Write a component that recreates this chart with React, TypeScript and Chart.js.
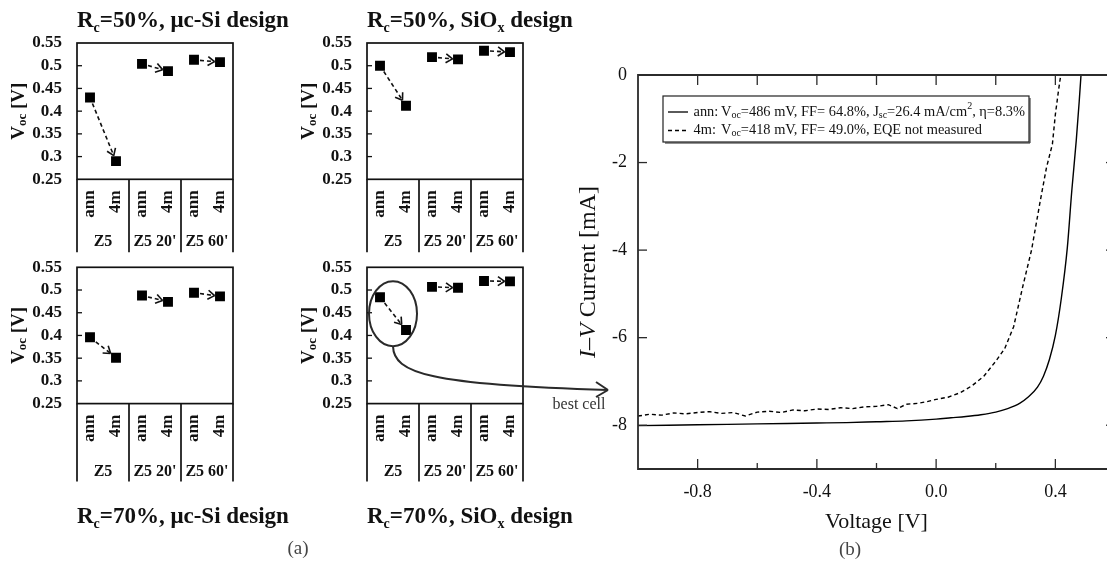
import React, { useEffect, useRef } from 'react';
import { Chart, registerables } from 'chart.js';
Chart.register(...registerables);

// ---------------- Data: Voc panels (a) ----------------
const groups = ['Z5', "Z5 20'", "Z5 60'"];
const treatments = ['ann', '4m'];
const vocTicks = [0.25, 0.3, 0.35, 0.4, 0.45, 0.5, 0.55];

const rc50ucAnn = [0.43, 0.504, 0.513];
const rc50uc4m = [0.29, 0.488, 0.508];
const rc50SiOxAnn = [0.5, 0.519, 0.533];
const rc50SiOx4m = [0.412, 0.514, 0.53];
const rc70ucAnn = [0.396, 0.488, 0.494];
const rc70uc4m = [0.351, 0.474, 0.486];
const rc70SiOxAnn = [0.484, 0.507, 0.52];
const rc70SiOx4m = [0.412, 0.505, 0.519];

// ---------------- Data: I-V curves (b) ----------------
const annVoltage = [-1.0, -0.9, -0.8, -0.7, -0.6, -0.5, -0.4, -0.3, -0.2, -0.1, 0.0, 0.05, 0.1, 0.15, 0.2, 0.24, 0.28, 0.31, 0.34, 0.36, 0.38, 0.4, 0.42, 0.44, 0.455, 0.47, 0.48, 0.486, 0.492];
const annCurrent = [-8.01, -8.0, -7.99, -7.98, -7.97, -7.96, -7.95, -7.94, -7.92, -7.9, -7.86, -7.83, -7.8, -7.76, -7.7, -7.62, -7.5, -7.35, -7.13, -6.88, -6.5, -5.95, -5.1, -3.95, -2.65, -1.5, -0.6, 0.0, 0.5];
const m4Voltage = [-1.0, -0.96, -0.92, -0.88, -0.84, -0.8, -0.76, -0.72, -0.68, -0.64, -0.6, -0.56, -0.52, -0.48, -0.44, -0.4, -0.36, -0.32, -0.28, -0.24, -0.2, -0.16, -0.13, -0.1, -0.06, -0.03, 0.0, 0.04, 0.08, 0.12, 0.16, 0.2, 0.23, 0.26, 0.29, 0.32, 0.35, 0.37, 0.39, 0.4, 0.41, 0.418, 0.425];
const m4Current = [-7.79, -7.75, -7.77, -7.72, -7.74, -7.71, -7.69, -7.73, -7.71, -7.79, -7.7, -7.68, -7.71, -7.65, -7.67, -7.63, -7.64, -7.6, -7.62, -7.58, -7.57, -7.53, -7.62, -7.52, -7.5, -7.46, -7.41, -7.36, -7.26, -7.1, -6.88, -6.54, -6.25, -5.75, -4.85, -4.0, -2.85, -2.12, -1.58, -0.9, -0.38, 0.0, 0.4];
const xMajorTicks = [-0.8, -0.4, 0.0, 0.4];
const xMinorTicks = [-0.6, -0.2, 0.2];
const yTicks = [-8, -6, -4, -2, 0];

// ---------------- Styling helpers ----------------
const SERIF = '"Liberation Serif", "Times New Roman", serif';
const bold = (s: number) => `bold ${s}px ${SERIF}`;
const reg = (s: number) => `${s}px ${SERIF}`;
const ital = (s: number) => `italic ${s}px ${SERIF}`;
const INK = '#111';

type Seg = { t: string; font: string; dy?: number };

function drawSegs(ctx: CanvasRenderingContext2D, segs: Seg[], x: number, y: number, align: 'left' | 'center') {
  let total = 0;
  for (const s of segs) {
    ctx.font = s.font;
    total += ctx.measureText(s.t).width;
  }
  let cx = align === 'center' ? x - total / 2 : x;
  ctx.textAlign = 'left';
  for (const s of segs) {
    ctx.font = s.font;
    ctx.fillText(s.t, cx, y + (s.dy || 0));
    cx += ctx.measureText(s.t).width;
  }
}

function line(ctx: CanvasRenderingContext2D, x1: number, y1: number, x2: number, y2: number) {
  ctx.beginPath();
  ctx.moveTo(x1, y1);
  ctx.lineTo(x2, y2);
  ctx.stroke();
}

type PanelProps = {
  left: number;
  top: number;
  width: number;
  height: number;
  plotTop: number;
  boxDepth: number;
  groupLabelOffset: number;
  ann: number[];
  m4: number[];
  title: Seg[];
  titleY: number;
  highlight?: boolean;
  caption?: { t: string; x: number; y: number };
};

function Panel(props: PanelProps) {
  const ref = useRef<HTMLCanvasElement>(null);
  useEffect(() => {
    const canvas = ref.current;
    if (!canvas) return;
    const { ann, m4, title, titleY, highlight, width, height, plotTop, caption, boxDepth, groupLabelOffset } = props;
    const plotBottom = plotTop + 136.3;

    const decor = {
      id: 'panelDecor',
      beforeDatasetsDraw(chart: any) {
        const ctx: CanvasRenderingContext2D = chart.ctx;
        const a = chart.getDatasetMeta(0).data;
        const b = chart.getDatasetMeta(1).data;
        ctx.save();
        ctx.strokeStyle = INK;
        ctx.lineWidth = 1.6;
        for (let g = 0; g < groups.length; g++) {
          const p1 = { x: a[g].x, y: a[g].y };
          const p2 = { x: b[g].x, y: b[g].y };
          const dx = p2.x - p1.x;
          const dy = p2.y - p1.y;
          const len = Math.hypot(dx, dy);
          const ux = dx / len;
          const uy = dy / len;
          const edge = 5 / Math.max(Math.abs(ux), Math.abs(uy));
          const sx = p1.x + ux * (edge + 1);
          const sy = p1.y + uy * (edge + 1);
          const tx = p2.x - ux * (edge + 0.5);
          const ty = p2.y - uy * (edge + 0.5);
          ctx.setLineDash([4, 3]);
          line(ctx, sx, sy, tx, ty);
          ctx.setLineDash([]);
          const ang = Math.atan2(uy, ux);
          for (const s of [-0.6, 0.6]) {
            line(ctx, tx, ty, tx - Math.cos(ang + s) * 8, ty - Math.sin(ang + s) * 8);
          }
        }
        ctx.restore();
      },
      afterDraw(chart: any) {
        const ctx: CanvasRenderingContext2D = chart.ctx;
        const { left, right, top, bottom } = chart.chartArea;
        const xs = chart.scales.x;
        const ys = chart.scales.y;
        ctx.save();
        ctx.strokeStyle = INK;
        ctx.fillStyle = INK;
        ctx.lineWidth = 1.7;
        ctx.strokeRect(left, top, right - left, bottom - top);
        // inward ticks
        ctx.lineWidth = 1.3;
        for (const v of vocTicks.slice(1, -1)) {
          const py = ys.getPixelForValue(v);
          line(ctx, left, py, left + 5, py);
        }
        // category box separators
        ctx.lineWidth = 1.7;
        for (let g = 0; g <= groups.length; g++) {
          const px = xs.getPixelForValue(g * 2);
          line(ctx, px, bottom, px, bottom + boxDepth);
        }
        // rotated treatment labels
        ctx.textBaseline = 'middle';
        for (let g = 0; g < groups.length; g++) {
          ctx.font = bold(17);
          treatments.forEach((tr, k) => {
            const px = xs.getPixelForValue(g * 2 + k + 0.5);
            ctx.save();
            ctx.translate(px, bottom + 11);
            ctx.rotate(-Math.PI / 2);
            ctx.textAlign = 'right';
            ctx.fillText(tr, 0, 0);
            ctx.restore();
          });
          ctx.font = bold(16);
          ctx.textAlign = 'center';
          ctx.fillText(groups[g], xs.getPixelForValue(g * 2 + 1), bottom + groupLabelOffset);
        }
        // y title
        ctx.save();
        ctx.translate(19, (top + bottom) / 2);
        ctx.rotate(-Math.PI / 2);
        ctx.textBaseline = 'middle';
        drawSegs(ctx, [
          { t: 'V', font: bold(19) },
          { t: 'oc', font: bold(13), dy: 4 },
          { t: ' [V]', font: bold(19) },
        ], 0, 0, 'center');
        ctx.restore();
        // title
        ctx.textBaseline = 'alphabetic';
        drawSegs(ctx, title, left, titleY, 'left');
        // highlight ellipse + arrow
        if (highlight) {
          const a = chart.getDatasetMeta(0).data[0];
          const b = chart.getDatasetMeta(1).data[0];
          const cx = (a.x + b.x) / 2;
          const cy = (a.y + b.y) / 2;
          const rx = 24;
          const ry = 32.5;
          ctx.strokeStyle = '#2a2a2a';
          ctx.lineWidth = 2;
          ctx.beginPath();
          ctx.ellipse(cx, cy, rx, ry, 0, 0, Math.PI * 2);
          ctx.stroke();
          const sx = cx;
          const sy = cy + ry;
          const ex = 318;
          const ey = 166;
          ctx.beginPath();
          ctx.moveTo(sx, sy);
          ctx.bezierCurveTo(sx + 0.5, sy + 27, 140, 161, ex, ey);
          ctx.stroke();
          line(ctx, ex, ey, ex - 12, ey - 8);
          line(ctx, ex, ey, ex - 12, ey + 7);
          ctx.fillStyle = '#333';
          ctx.font = reg(16);
          ctx.textAlign = 'center';
          ctx.textBaseline = 'middle';
          ctx.fillText('best cell', 289, 181);
        }
        if (caption) {
          ctx.fillStyle = '#444';
          ctx.font = reg(19);
          ctx.textAlign = 'center';
          ctx.textBaseline = 'middle';
          ctx.fillText(caption.t, caption.x, caption.y);
        }
        ctx.restore();
      },
    };

    const chart = new Chart(canvas, {
      type: 'scatter',
      data: {
        datasets: [
          {
            label: treatments[0],
            data: ann.map((v, g) => ({ x: g * 2 + 0.5, y: v })),
            pointStyle: 'rect',
            pointRadius: 7,
            pointHoverRadius: 7,
            backgroundColor: '#000',
            borderWidth: 0,
          },
          {
            label: treatments[1],
            data: m4.map((v, g) => ({ x: g * 2 + 1.5, y: v })),
            pointStyle: 'rect',
            pointRadius: 7,
            pointHoverRadius: 7,
            backgroundColor: '#000',
            borderWidth: 0,
          },
        ],
      },
      options: {
        responsive: false,
        animation: false,
        events: [],
        layout: { padding: { left: 0, right: width - 233, top: plotTop, bottom: height - plotBottom } },
        plugins: { legend: { display: false }, tooltip: { enabled: false } },
        scales: {
          x: { type: 'linear', display: false, min: 0, max: 6 },
          y: {
            type: 'linear',
            min: 0.25,
            max: 0.55,
            grid: { display: false, drawTicks: false },
            border: { display: false },
            ticks: {
              autoSkip: false,
              padding: 15,
              color: INK,
              font: { family: SERIF, weight: 'bold', size: 17 },
              callback: (v: any) => String(Math.round(Number(v) * 100) / 100),
            },
            afterBuildTicks: (s: any) => {
              s.ticks = vocTicks.map((v) => ({ value: v }));
            },
            afterFit: (s: any) => {
              s.width = 77;
            },
          },
        },
      },
      plugins: [decor],
    } as any);
    return () => chart.destroy();
  }, []);
  return (
    <canvas
      ref={ref}
      width={props.width}
      height={props.height}
      style={{ position: 'absolute', left: props.left, top: props.top, width: props.width, height: props.height }}
    />
  );
}

function IVChart() {
  const ref = useRef<HTMLCanvasElement>(null);
  useEffect(() => {
    const canvas = ref.current;
    if (!canvas) return;
    const decor = {
      id: 'ivDecor',
      afterDraw(chart: any) {
        const ctx: CanvasRenderingContext2D = chart.ctx;
        const { left, right, top, bottom } = chart.chartArea;
        const xs = chart.scales.x;
        const ys = chart.scales.y;
        ctx.save();
        ctx.strokeStyle = '#2b2b2b';
        ctx.fillStyle = INK;
        ctx.lineWidth = 1.8;
        ctx.beginPath();
        ctx.moveTo(left, top);
        ctx.lineTo(right, top);
        ctx.lineTo(right, bottom);
        ctx.lineTo(left, bottom);
        ctx.closePath();
        ctx.stroke();
        ctx.lineWidth = 1.3;
        for (const v of yTicks) {
          if (v === 0) continue;
          const py = ys.getPixelForValue(v);
          line(ctx, left, py, left + 9, py);
          line(ctx, right, py, right - 9, py);
        }
        for (const v of [...xMajorTicks, ...xMinorTicks]) {
          const px = xs.getPixelForValue(v);
          line(ctx, px, top, px, top + 10);
        }
        for (const v of xMajorTicks) {
          const px = xs.getPixelForValue(v);
          line(ctx, px, bottom, px, bottom - 10);
        }
        for (const v of xMinorTicks) {
          const px = xs.getPixelForValue(v);
          line(ctx, px, bottom, px, bottom - 6);
        }
        // legend
        const bx = left + 25;
        const by = top + 21;
        const bw = 366;
        const bh = 46;
        ctx.fillStyle = '#fff';
        ctx.fillRect(bx, by, bw, bh);
        ctx.strokeStyle = '#222';
        ctx.lineWidth = 1.2;
        ctx.strokeRect(bx, by, bw, bh);
        ctx.lineWidth = 1;
        line(ctx, bx + bw + 1, by + 2, bx + bw + 1, by + bh + 1);
        line(ctx, bx + 2, by + bh + 1, bx + bw + 1, by + bh + 1);
        const F = 14.4;
        const rows = [
          {
            label: 'ann:',
            dash: [] as number[],
            segs: [
              { t: 'V', font: reg(F) },
              { t: 'oc', font: reg(10), dy: 3 },
              { t: '=486 mV, FF= 64.8%, J', font: reg(F) },
              { t: 'sc', font: reg(10), dy: 3 },
              { t: '=26.4 mA/cm', font: reg(F) },
              { t: '2', font: reg(10), dy: -6 },
              { t: ', η=8.3%', font: reg(F) },
            ],
          },
          {
            label: '4m:',
            dash: [4, 3],
            segs: [
              { t: 'V', font: reg(F) },
              { t: 'oc', font: reg(10), dy: 3 },
              { t: '=418 mV, FF= 49.0%, EQE not measured', font: reg(F) },
            ],
          },
        ];
        rows.forEach((r, i) => {
          const ry = by + 16 + i * 18.5;
          ctx.strokeStyle = '#000';
          ctx.lineWidth = 1.3;
          ctx.setLineDash(r.dash);
          line(ctx, bx + 5, ry, bx + 25, ry);
          ctx.setLineDash([]);
          ctx.fillStyle = INK;
          ctx.textBaseline = 'middle';
          ctx.font = reg(F);
          ctx.textAlign = 'left';
          ctx.fillText(r.label, bx + 30.5, ry);
          drawSegs(ctx, r.segs, bx + 58, ry, 'left');
        });
        // y title
        ctx.save();
        ctx.translate(29, (top + bottom) / 2);
        ctx.rotate(-Math.PI / 2);
        ctx.textBaseline = 'middle';
        ctx.fillStyle = INK;
        drawSegs(ctx, [
          { t: 'I', font: ital(24) },
          { t: '–', font: reg(24) },
          { t: 'V', font: ital(24) },
          { t: ' Current [mA]', font: reg(24) },
        ], 0, 0, 'center');
        ctx.restore();
        // x title
        ctx.fillStyle = INK;
        ctx.font = reg(22);
        ctx.textAlign = 'center';
        ctx.textBaseline = 'middle';
        ctx.fillText('Voltage [V]', (left + right) / 2, 522);
        ctx.fillStyle = '#444';
        ctx.font = reg(19);
        ctx.fillText('(b)', 290, 550);
        ctx.restore();
      },
    };

    const chart = new Chart(canvas, {
      type: 'line',
      data: {
        datasets: [
          {
            label: 'ann',
            data: annVoltage.map((v, i) => ({ x: v, y: annCurrent[i] })),
            borderColor: '#000',
            borderWidth: 1.4,
            pointRadius: 0,
            cubicInterpolationMode: 'monotone',
          },
          {
            label: '4m',
            data: m4Voltage.map((v, i) => ({ x: v, y: m4Current[i] })),
            borderColor: '#000',
            borderWidth: 1.4,
            borderDash: [4, 3],
            pointRadius: 0,
          },
        ],
      },
      options: {
        responsive: false,
        animation: false,
        events: [],
        layout: { padding: { left: 0, right: 15, top: 75, bottom: 0 } },
        plugins: { legend: { display: false }, tooltip: { enabled: false } },
        scales: {
          x: {
            type: 'linear',
            min: -1.0,
            max: 0.6,
            grid: { display: false, drawTicks: false },
            border: { display: false },
            ticks: {
              autoSkip: false,
              padding: 12,
              color: INK,
              font: { family: SERIF, size: 18 },
              callback: (v: any) => Number(v).toFixed(1),
            },
            afterBuildTicks: (s: any) => {
              s.ticks = xMajorTicks.map((v) => ({ value: v }));
            },
            afterFit: (s: any) => {
              s.height = 93;
            },
          },
          y: {
            type: 'linear',
            min: -9,
            max: 0,
            grid: { display: false, drawTicks: false },
            border: { display: false },
            ticks: {
              autoSkip: false,
              padding: 11,
              color: INK,
              font: { family: SERIF, size: 18 },
              callback: (v: any) => String(v),
            },
            afterBuildTicks: (s: any) => {
              s.ticks = yTicks.map((v) => ({ value: v }));
            },
            afterFit: (s: any) => {
              s.width = 78;
            },
          },
        },
      },
      plugins: [decor],
    } as any);
    return () => chart.destroy();
  }, []);
  return (
    <canvas
      ref={ref}
      width={570}
      height={562}
      style={{ position: 'absolute', left: 560, top: 0, width: 570, height: 562 }}
    />
  );
}

const TS = 23;
const titleUc = (rc: string): Seg[] => [
  { t: 'R', font: bold(TS) },
  { t: 'c', font: bold(14), dy: 5 },
  { t: `=${rc}, μc-Si design`, font: bold(TS) },
];
const titleSiOx = (rc: string): Seg[] => [
  { t: 'R', font: bold(TS) },
  { t: 'c', font: bold(14), dy: 5 },
  { t: `=${rc}, SiO`, font: bold(TS) },
  { t: 'x', font: bold(14), dy: 5 },
  { t: ' design', font: bold(TS) },
];

export default function App() {
  return (
    <div
      style={{
        position: 'absolute',
        left: 0,
        top: 0,
        width: 1107,
        height: 562,
        overflow: 'hidden',
        background: '#fff',
      }}
    >
      <IVChart />
      <Panel left={0} top={0} width={300} height={262} plotTop={43} boxDepth={73} groupLabelOffset={63} ann={rc50ucAnn} m4={rc50uc4m} title={titleUc('50%')} titleY={27} />
      <Panel left={290} top={0} width={300} height={262} plotTop={43} boxDepth={73} groupLabelOffset={63} ann={rc50SiOxAnn} m4={rc50SiOx4m} title={titleSiOx('50%')} titleY={27} />
      <Panel
        left={0}
        top={224}
        width={330}
        height={338}
        plotTop={43.3}
        boxDepth={78}
        groupLabelOffset={68}
        ann={rc70ucAnn}
        m4={rc70uc4m}
        title={titleUc('70%')}
        titleY={299}
        caption={{ t: '(a)', x: 298, y: 325 }}
      />
      <Panel
        left={290}
        top={224}
        width={340}
        height={338}
        plotTop={43.3}
        boxDepth={78}
        groupLabelOffset={68}
        ann={rc70SiOxAnn}
        m4={rc70SiOx4m}
        title={titleSiOx('70%')}
        titleY={299}
        highlight
      />
    </div>
  );
}
